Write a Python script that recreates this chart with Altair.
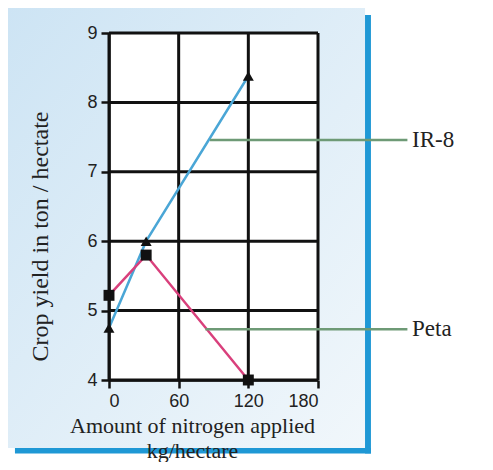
import altair as alt
import pandas as pd

# ---- data ----
nitrogen = [0, 32, 120]
ir8_yield = [4.75, 6.0, 8.38]
peta_yield = [5.22, 5.8, 4.0]

x_ticks = [0, 60, 120, 180]
y_ticks = [4, 5, 6, 7, 8, 9]

labels = ["IR-8", "Peta"]
label_from_x = [87, 83]
label_to_x = [257, 257]
label_y = [7.46, 4.73]
label_text_x = [261, 261]

df = pd.DataFrame({
    "x": nitrogen * 2,
    "y": ir8_yield + peta_yield,
    "variety": ["IR-8"] * 3 + ["Peta"] * 3,
})
xt = pd.DataFrame({"t": x_ticks})
yt = pd.DataFrame({"t": y_ticks})
ann = pd.DataFrame({"label": labels, "x1": label_from_x, "x2": label_to_x,
                    "y": label_y, "tx": label_text_x})

# decorative panel extents (in data units so they ride on the scales)
panel = pd.DataFrame({"x1": [-87], "x2": [220.5], "y1": [3.02], "y2": [9.36]})
strip_r = pd.DataFrame({"x1": [220.5], "x2": [225.6], "y1": [2.94], "y2": [9.26]})
strip_b = pd.DataFrame({"x1": [-81], "x2": [225.6], "y1": [2.94], "y2": [3.02]})
plotbox = pd.DataFrame({"x1": [0], "x2": [180], "y1": [4], "y2": [9]})

xs = alt.Scale(domain=[0, 180], nice=False, zero=False)
ys = alt.Scale(domain=[4, 9], nice=False, zero=False)

xaxis = alt.Axis(values=x_ticks, grid=False, zindex=1,
                 title=["Amount of nitrogen applied", "kg/hectare"],
                 titleX=83, titleY=35, titleBaseline="top", titleAlign="center",
                 titleLineHeight=25, titleFontSize=22)
yaxis = alt.Axis(values=y_ticks, grid=False, zindex=1,
                 title="Crop yield in ton / hectate",
                 titleX=-69, titleY=203, titleAngle=270,
                 titleAlign="center", titleBaseline="middle")

def rect(d, color, opacity=1):
    return alt.Chart(d).mark_rect(color=color, opacity=opacity, clip=False).encode(
        x=alt.X("x1:Q", scale=xs, axis=xaxis), x2="x2:Q",
        y=alt.Y("y1:Q", scale=ys, axis=yaxis), y2="y2:Q")

grad = alt.Gradient(gradient="linear",
                    stops=[alt.GradientStop(offset=0, color="#cde4f4"),
                           alt.GradientStop(offset=1, color="#f1f7fb")],
                    x1=0, y1=0, x2=1, y2=1)

panel_l = alt.Chart(panel).mark_rect(color=grad, clip=False).encode(
    x=alt.X("x1:Q", scale=xs, axis=xaxis), x2="x2:Q",
    y=alt.Y("y1:Q", scale=ys, axis=yaxis), y2="y2:Q")
strip_rl = rect(strip_r, "#1f98d5")
strip_bl = rect(strip_b, "#1f98d5")
plot_l = rect(plotbox, "white")

gx = alt.Chart(xt).mark_rule(color="#111111", strokeWidth=3).encode(
    x=alt.X("t:Q", scale=xs, axis=xaxis))
gy = alt.Chart(yt).mark_rule(color="#111111", strokeWidth=3).encode(
    y=alt.Y("t:Q", scale=ys, axis=yaxis))

lines = alt.Chart(df).mark_line(strokeWidth=2.5).encode(
    x=alt.X("x:Q", scale=xs, axis=xaxis),
    y=alt.Y("y:Q", scale=ys, axis=yaxis),
    color=alt.Color("variety:N", scale=alt.Scale(domain=["IR-8", "Peta"],
                                                 range=["#4aa6d6", "#d9407c"]),
                    legend=None),
)
pts = alt.Chart(df).mark_point(filled=True, color="#111111", size=120, opacity=1).encode(
    x=alt.X("x:Q", scale=xs, axis=xaxis),
    y=alt.Y("y:Q", scale=ys, axis=yaxis),
    shape=alt.Shape("variety:N", scale=alt.Scale(domain=["IR-8", "Peta"],
                                                 range=["triangle-up", "square"]),
                    legend=None),
)

ann_l = alt.Chart(ann).mark_rule(color="#6e9a76", strokeWidth=2.5, clip=False).encode(
    x=alt.X("x1:Q", scale=xs, axis=xaxis), x2="x2:Q",
    y=alt.Y("y:Q", scale=ys, axis=yaxis))
ann_t = alt.Chart(ann).mark_text(align="left", baseline="middle", font="Liberation Serif",
                                 fontSize=23, color="#222222", clip=False).encode(
    x=alt.X("tx:Q", scale=xs, axis=xaxis),
    y=alt.Y("y:Q", scale=ys, axis=yaxis),
    text="label:N")

chart = alt.layer(panel_l, strip_rl, strip_bl, plot_l, gx, gy, lines, pts, ann_l, ann_t).properties(
    width=209, height=347,
    autosize=alt.AutoSizeParams(type="none"),
    padding={"left": 101, "top": 25, "right": 167, "bottom": 82},
    background="white",
).configure_view(stroke=None, fill=None).configure_axis(
    domainColor="#111111", domainWidth=2.5,
    tickColor="#111111", tickWidth=2.5, tickSize=8,
    labelFont="Liberation Sans", labelFontSize=18, labelColor="#222222", labelPadding=4,
    titleFont="Liberation Serif", titleFontSize=24, titleFontWeight="normal", titleColor="#222222",
).resolve_scale(color="independent")

chart.save("out.html", embed_options={"renderer": "svg", "actions": False})
